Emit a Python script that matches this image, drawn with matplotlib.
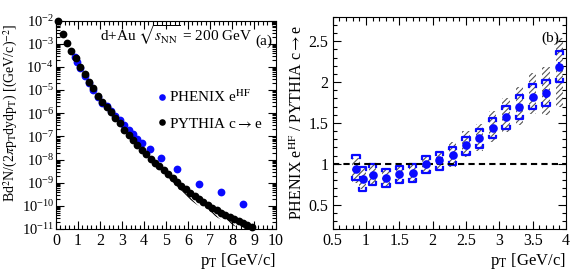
import numpy as np
import matplotlib
matplotlib.use('Agg')
from matplotlib import pyplot as plt
from matplotlib import ticker
from matplotlib.patches import Rectangle

plt.rcParams['font.family'] = ['Liberation Serif', 'DejaVu Serif']
plt.rcParams['mathtext.fontset'] = 'stix'
plt.rcParams['hatch.linewidth'] = 0.8

# (a) spectra
pythia_pt = [0.1, 0.3, 0.5, 0.7, 0.9, 1.1, 1.3, 1.5, 1.7, 1.9, 2.1, 2.3, 2.5, 2.7, 2.9,
             3.1, 3.3, 3.5, 3.7, 3.9, 4.1, 4.3, 4.5, 4.7, 4.9, 5.1, 5.3, 5.5, 5.7, 5.9,
             6.1, 6.3, 6.5, 6.7, 6.9, 7.1, 7.3, 7.5, 7.7, 7.9, 8.1, 8.3, 8.5, 8.7, 8.9]
pythia_y = [1.0e-2, 2.6e-3, 1.12e-3, 5.0e-4, 2.34e-4, 1.02e-4, 4.9e-5, 2.29e-5, 1.20e-5, 5.75e-6,
            3.16e-6, 1.82e-6, 1.10e-6, 6.3e-7, 3.8e-7, 1.9e-7, 1.12e-7, 6.8e-8, 4.2e-8, 2.63e-8,
            1.66e-8, 1.10e-8, 7.4e-9, 5.1e-9, 3.5e-9, 2.34e-9, 1.58e-9, 1.07e-9, 7.4e-10, 5.1e-10,
            3.6e-10, 2.63e-10, 1.95e-10, 1.45e-10, 1.07e-10, 8.3e-11, 6.5e-11, 5.1e-11, 4.1e-11, 3.3e-11,
            2.7e-11, 2.24e-11, 1.82e-11, 1.48e-11, 1.20e-11]
pythia_rel_err = 0.5   # size of the hatched band under the high-pT points

phenix_pt = [0.85, 0.95, 1.1, 1.3, 1.5, 1.7, 1.9, 2.1, 2.3, 2.5, 2.7, 2.9, 3.1, 3.3, 3.5, 3.7, 3.9,
             4.25, 4.75, 5.5, 6.5, 7.5, 8.5]
phenix_y = [2.75e-4, 1.58e-4, 9.3e-5, 4.1e-5, 2.1e-5, 1.0e-5, 4.9e-6, 2.7e-6, 2.0e-6, 1.26e-6,
            7.6e-7, 5.0e-7, 3.0e-7, 1.9e-7, 1.26e-7, 7.9e-8, 5.4e-8, 2.8e-8, 1.15e-8, 3.9e-9,
            8.9e-10, 3.9e-10, 1.26e-10]

# (b) ratio
ratio_pt = [0.85, 0.95, 1.1, 1.3, 1.5, 1.7, 1.9, 2.1, 2.3, 2.5, 2.7, 2.9, 3.1, 3.3, 3.5, 3.7, 3.9]
ratio = [0.93, 0.815, 0.86, 0.82, 0.87, 0.89, 0.99, 1.04, 1.11, 1.23, 1.31, 1.44, 1.57, 1.69, 1.82, 1.86, 2.19]
ratio_stat = [0.01, 0.01, 0.01, 0.01, 0.01, 0.01, 0.01, 0.01, 0.01, 0.015, 0.02, 0.02, 0.025, 0.03, 0.035, 0.05, 0.06]
sys_lo = [0.80, 0.67, 0.74, 0.72, 0.76, 0.78, 0.88, 0.92, 0.98, 1.11, 1.19, 1.31, 1.43, 1.55, 1.67, 1.71, 2.00]
sys_hi = [1.105, 0.96, 1.0, 0.94, 0.97, 1.0, 1.09, 1.145, 1.21, 1.33, 1.43, 1.56, 1.71, 1.84, 1.98, 2.02, 2.38]
model_lo = [0.76, 0.69, 0.74, 0.72, 0.76, 0.78, 0.88, 0.92, 0.96, 1.08, 1.15, 1.27, 1.39, 1.47, 1.61, 1.59, 1.69]
model_hi = [1.065, 0.96, 0.99, 0.93, 0.97, 1.0, 1.09, 1.14, 1.27, 1.40, 1.49, 1.64, 1.81, 1.94, 2.11, 2.18, 2.54]

blau = '#0a0aff'
fs = 11.5

fig = plt.figure(figsize=(5.81, 2.76), dpi=100)
ax1 = fig.add_axes([0.0964, 0.1703, 0.3787, 0.7554])
ax2 = fig.add_axes([0.5726, 0.1703, 0.4016, 0.7692])

# ---- (a)
pt_arr = np.array(pythia_pt)
y_arr = np.array(pythia_y)
sel = pt_arr >= 4.4
ax1.fill_between(pt_arr[sel], y_arr[sel] * pythia_rel_err, y_arr[sel], facecolor='none',
                 edgecolor='black', hatch='\\\\\\\\', linewidth=0)
ax1.plot(phenix_pt, phenix_y, 'o', color=blau, ms=5.6, mec='none', label=r'PHENIX e$^{\rm HF}$', zorder=3)
ax1.plot(pythia_pt, pythia_y, 'o', color='black', ms=5.6, mec='none', label=r'PYTHIA c$\rightarrow$e',
         zorder=4, clip_on=False)
ax1.set_yscale('log')
ax1.set_xlim(0, 10)
ax1.set_ylim(1e-11, 1e-2)
ax1.xaxis.set_major_locator(ticker.MultipleLocator(1))
ax1.xaxis.set_minor_locator(ticker.MultipleLocator(0.2))
ax1.yaxis.set_major_locator(ticker.LogLocator(base=10, numticks=20))
ax1.yaxis.set_minor_locator(ticker.LogLocator(base=10, subs=np.arange(2, 10), numticks=20))
ax1.yaxis.set_minor_formatter(ticker.NullFormatter())
ax1.set_xlabel(r'p$_{\rm T}$ [GeV/c]', fontsize=12, loc='right', labelpad=1)
ax1.set_ylabel(r'Bd$^2$N/(2$\pi$p$_{\rm T}$dydp$_{\rm T}$) [(GeV/c)$^{-2}$]', fontsize=10)
ax1.yaxis.set_label_coords(-0.163, 0.56)
ax1.text(0.2, 0.9, r'd+Au $\sqrt{s_{\rm NN}}$ = 200 GeV', transform=ax1.transAxes, fontsize=11)
ax1.text(0.905, 0.885, '(a)', transform=ax1.transAxes, fontsize=11)
ax1.legend(loc='upper left', bbox_to_anchor=(0.43, 0.71), frameon=False, fontsize=11,
           handlelength=0.5, handletextpad=0.2, labelspacing=0.75, borderpad=0, markerscale=0.85)

# ---- (b)
w = 0.055
leg = 0.035
for x, lo, hi, mlo, mhi in zip(ratio_pt, sys_lo, sys_hi, model_lo, model_hi):
    ax2.add_patch(Rectangle((x - w, mlo), 2 * w, mhi - mlo, facecolor='none', edgecolor='#555555',
                            hatch='//////', linewidth=0, zorder=1))
    ax2.plot([x - w, x - w, x + w, x + w], [hi - leg, hi, hi, hi - leg], color=blau, lw=1.6, zorder=2)
    ax2.plot([x - w, x - w, x + w, x + w], [lo + leg, lo, lo, lo + leg], color=blau, lw=1.6, zorder=2)
ax2.errorbar(ratio_pt, ratio, yerr=ratio_stat, fmt='o', color=blau, ms=6.2, mec='none', elinewidth=1.5,
             capsize=0, zorder=3)
ax2.axhline(1.0, color='black', ls=(0, (3, 2)), lw=1.5, zorder=2.5)
ax2.set_xlim(0.5, 4)
ax2.set_ylim(0.2, 2.8)
ax2.xaxis.set_major_locator(ticker.MultipleLocator(0.5))
ax2.xaxis.set_minor_locator(ticker.MultipleLocator(0.1))
ax2.yaxis.set_major_locator(ticker.MultipleLocator(0.5))
ax2.yaxis.set_minor_locator(ticker.MultipleLocator(0.1))
ax2.xaxis.set_major_formatter(ticker.FuncFormatter(lambda v, p: '%g' % v))
ax2.yaxis.set_major_formatter(ticker.FuncFormatter(lambda v, p: '%g' % v if v > 0.3 else ''))
ax2.set_xlabel(r'p$_{\rm T}$ [GeV/c]', fontsize=12, loc='right', labelpad=1)
ax2.set_ylabel(r'PHENIX e$^{\rm HF}$ / PYTHIA c$\rightarrow$e', fontsize=11.5, labelpad=2)
ax2.text(0.895, 0.88, '(b)', transform=ax2.transAxes, fontsize=11)

for ax in (ax1, ax2):
    ax.tick_params(which='both', direction='in', top=True, right=True, labelsize=fs, pad=3)
    ax.tick_params(which='major', length=6, width=0.8)
    ax.tick_params(which='minor', length=3, width=0.8)
ax1.tick_params(axis='y', labelsize=10.5, pad=1.5)

fig.savefig('out.png', dpi=100)
